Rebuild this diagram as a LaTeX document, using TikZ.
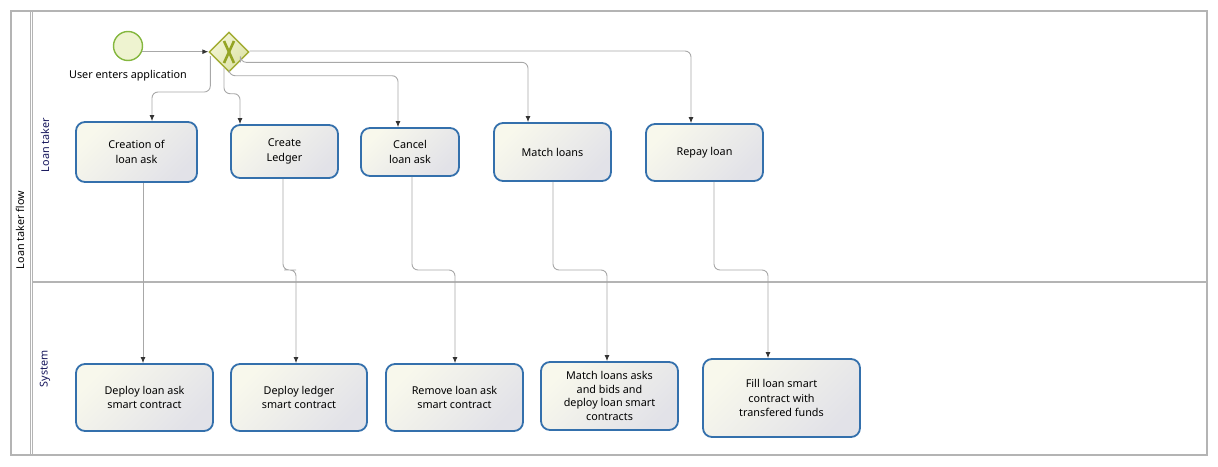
\documentclass[tikz,border=0pt]{standalone}
\usepackage{fontspec}
\setmainfont{Noto Sans}
\usetikzlibrary{arrows.meta,calc,shapes.geometric}
\definecolor{taskborder}{HTML}{3470AC}
\definecolor{tasklight}{HTML}{F8F8EC}
\definecolor{taskdark}{HTML}{E2E2E8}
\definecolor{startline}{HTML}{84B73E}
\definecolor{startfill}{HTML}{EEF3D0}
\definecolor{gwline}{HTML}{A2AC32}
\definecolor{gwlight}{HTML}{F3F5D6}
\definecolor{gwdark}{HTML}{DDE3A6}
\definecolor{gwx}{HTML}{94A424}
\definecolor{flowline}{HTML}{A8A8A8}
\definecolor{poolline}{HTML}{B4B4B4}
\definecolor{lanetext}{HTML}{14145A}
\begin{document}
\begin{tikzpicture}[x=1pt,y=-1pt,
  task/.style={draw=taskborder, line width=1.8pt, rounded corners=9pt,
    top color=tasklight, bottom color=taskdark, shading angle=45,
    align=center, inner sep=0pt, font=\fontsize{10.8}{14.5}\selectfont},
  startev/.style={circle, draw=startline, line width=1.4pt, fill=startfill, minimum size=29pt, inner sep=0pt},
  gate/.style={diamond, draw=gwline, line width=1.4pt, top color=gwlight, bottom color=gwdark, shading angle=45,
    minimum width=40pt, minimum height=40pt, inner sep=0pt},
  flow/.style={draw=flowline, line width=0.9pt, rounded corners=6pt,
    -{Latex[length=6pt,width=5pt,color=black!80]}},
  lbl/.style={font=\fontsize{10.8}{13}\selectfont},
  lanelbl/.style={font=\fontsize{10.8}{13}\selectfont, rotate=90, text=lanetext},
  pool/.style={draw=poolline, line width=1.2pt}
]
\useasboundingbox (0,0) rectangle (1218,466);
% pool and lanes
\draw[pool] (11,11) rectangle (1207,455);
\draw[pool] (30.5,11) -- (30.5,455);
\draw[pool] (32.5,11) -- (32.5,455);
\draw[pool, line width=2pt] (32.5,282) -- (1207,282);
\node[lanelbl, text=black] (poollbl) at (20,230) {Loan taker flow};
\node[lanelbl] (lane1) at (45,145) {Loan taker};
\node[lanelbl] (lane2) at (45,369) {System};
% start and gateway
\node[startev] (start) at (128,46) {};
\node[lbl] (startlbl) at (128,76) {User enters application};
\node[gate] (gw) at (229,52) {};
\draw[gwx, line width=2.6pt] ($(gw.center)+(-5,-11)$) -- ($(gw.center)+(5,11)$)
  ($(gw.center)+(5,-11)$) -- ($(gw.center)+(-5,11)$);
% top tasks
\node[task, minimum width=121pt, minimum height=60pt] (t1) at (136.5,152) {Creation of\\loan ask};
\node[task, minimum width=107pt, minimum height=53pt] (t2) at (284.5,151.5) {Create\\Ledger};
\node[task, minimum width=98pt, minimum height=48pt] (t3) at (410,152) {Cancel\\loan ask};
\node[task, minimum width=117pt, minimum height=58pt] (t4) at (552.5,152) {Match loans};
\node[task, minimum width=117pt, minimum height=57pt] (t5) at (704.5,152.5) {Repay loan};
% bottom tasks
\node[task, minimum width=137pt, minimum height=67pt] (b1) at (144.5,397.5) {Deploy loan ask\\smart contract};
\node[task, minimum width=136pt, minimum height=67pt] (b2) at (299,397.5) {Deploy ledger\\smart contract};
\node[task, minimum width=137pt, minimum height=67pt] (b3) at (454.5,397.5) {Remove loan ask\\smart contract};
\node[task, minimum width=137pt, minimum height=68pt, font=\fontsize{10.8}{13.5}\selectfont] (b4) at (609.5,396) {Match loans asks\\and bids and\\deploy loan smart\\contracts};
\node[task, minimum width=157pt, minimum height=78pt] (b5) at (781.5,398) {Fill loan smart\\contract with\\transfered funds};
% flows
\draw[flow, rounded corners=0pt] (start.-22) -- (start.-22 -| gw.west);
\draw[flow] ($(gw.west)+(2,4)$) -- ++(0,36) -| ([xshift=15.5pt]t1.north);
\draw[flow] ($(gw.south)+(-5,-5)$) -- ++(0,26) -| ([xshift=-44.5pt]t2.north);
\draw[flow] ($(gw.south)+(0,0)$) -- ++(0,3) -| ([xshift=-12pt]t3.north);
\draw[flow] ($(gw.south east)+(1,0)$) -- ++(0,0) -| ([xshift=-24.5pt]t4.north);
\draw[flow] ($(gw.east)+(0,-1)$) -| ([xshift=-13.5pt]t5.north);
\draw[flow] ([xshift=6.5pt]t1.south) -- ([xshift=-1.5pt]b1.north);
\draw[flow] ([xshift=-1.5pt]t2.south) |- (290,270) -| ([xshift=-3pt]b2.north);
\draw[flow] ([xshift=2pt]t3.south) |- (430,270) -| ([xshift=0.5pt]b3.north);
\draw[flow] ([xshift=0.5pt]t4.south) |- (580,270) -| ([xshift=-2.5pt]b4.north);
\draw[flow] ([xshift=9.5pt]t5.south) |- (740,270) -| ([xshift=-13.5pt]b5.north);
\end{tikzpicture}
\end{document}
